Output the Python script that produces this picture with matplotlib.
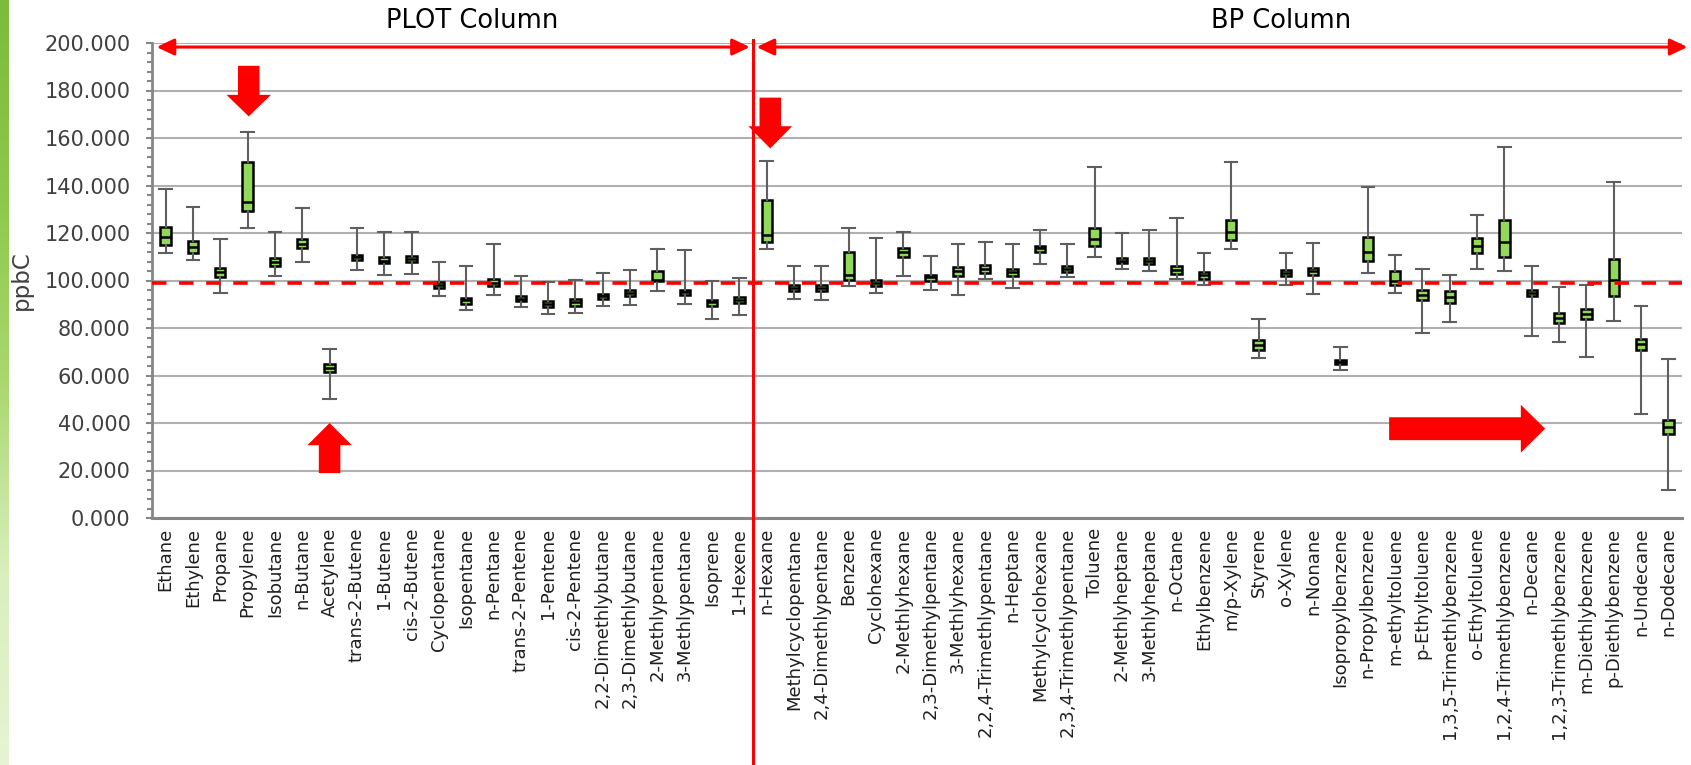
import numpy as np
import matplotlib
matplotlib.use("Agg")
import matplotlib.pyplot as plt
import matplotlib.transforms as mtransforms
from matplotlib.colors import LinearSegmentedColormap
from matplotlib.ticker import MultipleLocator, FormatStrFormatter

plt.rcParams['font.family'] = ['DejaVu Sans']

# Compounds by analytical column
plot_column = [
    "Ethane", "Ethylene", "Propane", "Propylene", "Isobutane", "n-Butane",
    "Acetylene", "trans-2-Butene", "1-Butene", "cis-2-Butene", "Cyclopentane",
    "Isopentane", "n-Pentane", "trans-2-Pentene", "1-Pentene", "cis-2-Pentene",
    "2,2-Dimethlybutane", "2,3-Dimethlybutane", "2-Methlypentane",
    "3-Methlypentane", "Isoprene", "1-Hexene",
]
bp_column = [
    "n-Hexane", "Methylcyclopentane", "2,4-Dimethlypentane", "Benzene",
    "Cyclohexane", "2-Methlyhexane", "2,3-Dimethylpentane", "3-Methlyhexane",
    "2,2,4-Trimethlypentane", "n-Heptane", "Methylcyclohexane",
    "2,3,4-Trimethlypentane", "Toluene", "2-Methlyheptane", "3-Methlyheptane",
    "n-Octane", "Ethylbenzene", "m/p-Xylene", "Styrene", "o-Xylene", "n-Nonane",
    "Isopropylbenzene", "n-Propylbenzene", "m-ethyltoluene", "p-Ethyltoluene",
    "1,3,5-Trimethlybenzene", "o-Ethyltoluene", "1,2,4-Trimethlybenzene",
    "n-Decane", "1,2,3-Trimethlybenzene", "m-Diethlybenzene", "p-Diethlybenzene",
    "n-Undecane", "n-Dodecane",
]
compounds = plot_column + bp_column

# Box statistics (ppbC)
whisker_low = [
    111.5, 108.7, 94.7, 122.0, 101.7, 107.8, 49.9, 104.5, 102.2, 102.8, 93.3,
    87.7, 93.7, 88.7, 85.9, 86.2, 89.4, 89.7, 95.7, 90.1, 83.9, 85.6,
    113.4, 92.2, 91.6, 97.5, 94.9, 101.7, 96.1, 93.7, 100.6, 97.0, 107.0,
    101.3, 109.7, 104.8, 103.8, 100.8, 98.2, 113.1, 67.5, 97.9, 94.5, 62.2,
    103.3, 94.8, 77.9, 82.7, 104.9, 104.1, 76.8, 74.1, 67.8, 82.9, 43.7, 12.0,
]
q1 = [
    115.0, 111.5, 101.3, 129.2, 106.2, 113.5, 61.5, 108.7, 107.2, 107.6, 96.8,
    90.3, 97.8, 91.2, 88.7, 89.1, 92.4, 93.4, 99.6, 93.7, 89.1, 90.5,
    116.2, 95.5, 95.4, 100.3, 97.5, 110.0, 100.0, 101.8, 103.1, 101.7, 111.9,
    103.4, 114.7, 107.3, 107.0, 102.8, 100.6, 117.1, 70.9, 101.7, 102.5, 65.0,
    108.3, 98.2, 91.7, 90.7, 111.6, 110.0, 93.3, 82.2, 83.6, 93.6, 70.9, 35.5,
]
median = [
    118.2, 114.0, 103.4, 133.1, 107.7, 115.4, 63.2, 109.7, 108.4, 109.1, 97.9,
    91.6, 98.9, 92.3, 89.9, 90.8, 93.6, 94.7, 100.3, 95.1, 90.8, 91.9,
    119.2, 96.9, 96.9, 102.4, 98.9, 111.8, 101.4, 103.8, 104.8, 103.5, 113.5,
    104.8, 117.4, 108.4, 108.1, 104.5, 102.2, 120.4, 73.0, 103.1, 103.8, 65.8,
    111.8, 100.0, 93.7, 93.0, 114.4, 116.1, 94.8, 84.3, 85.8, 100.4, 73.4, 38.4,
]
q3 = [
    122.7, 116.6, 105.3, 150.0, 109.5, 117.5, 65.0, 110.7, 109.7, 110.4, 99.2,
    92.6, 100.7, 93.6, 91.2, 92.2, 94.5, 95.8, 104.2, 96.1, 91.9, 92.9,
    134.1, 98.0, 98.0, 112.2, 100.3, 113.5, 102.4, 105.6, 106.5, 104.8, 114.5,
    105.9, 122.1, 109.4, 109.4, 105.9, 103.5, 125.6, 75.1, 104.5, 105.1, 66.4,
    118.4, 103.8, 96.0, 95.5, 118.1, 125.4, 96.0, 86.2, 88.0, 109.2, 75.5, 41.2,
]
whisker_high = [
    138.6, 130.8, 117.4, 162.5, 120.3, 130.6, 71.2, 122.0, 120.3, 120.3, 107.7,
    106.2, 115.4, 102.0, 99.5, 100.3, 103.2, 104.5, 113.4, 112.9, 100.0, 101.1,
    150.4, 106.0, 106.3, 122.1, 118.0, 120.5, 110.3, 115.4, 116.2, 115.3, 121.3,
    115.3, 147.6, 119.9, 121.1, 126.3, 111.5, 150.0, 83.9, 111.7, 115.6, 72.0,
    139.4, 110.6, 105.0, 102.5, 127.6, 156.3, 106.0, 97.2, 98.2, 141.5, 89.4, 67.0,
]

target_level = 99.0
y_ticks = np.arange(0, 201, 20)

W, H = 1691, 765
fig = plt.figure(figsize=(W / 100, H / 100), dpi=100)
fig.patch.set_facecolor("white")

# decorative green stripe on the left edge
stripe = fig.add_axes([0, 0, 9 / W, 1])
grad = np.linspace(0, 1, 256).reshape(-1, 1)
stripe_cmap = LinearSegmentedColormap.from_list(
    "stripe", ["#7dbb3c", "#8cc84b", "#a9d86f", "#d9efbd", "#e6f4d3"])
stripe.imshow(grad, aspect="auto", cmap=stripe_cmap, origin="upper")
stripe.set_axis_off()

left, right, top, bottom = 152, 1682, 43, 518
ax = fig.add_axes([left / W, 1 - bottom / H, (right - left) / W, (bottom - top) / H])

positions = np.arange(len(compounds))
stats = [
    dict(label=name, whislo=lo, q1=a, med=m, q3=b, whishi=hi)
    for name, lo, a, m, b, hi in zip(compounds, whisker_low, q1, median, q3, whisker_high)
]

whisk_col = "#5f5f5f"
ax.bxp(
    stats, positions=positions, widths=0.38, capwidths=0.46,
    patch_artist=True, showfliers=False,
    boxprops=dict(facecolor="#92d85a", edgecolor="black", linewidth=1.8),
    medianprops=dict(color="black", linewidth=1.8),
    whiskerprops=dict(color=whisk_col, linewidth=1.5),
    capprops=dict(color=whisk_col, linewidth=1.5),
    zorder=3,
)

ax.set_xlim(-0.5, len(compounds) - 0.5)
ax.set_ylim(0, 200)
ax.set_yticks(y_ticks)
ax.yaxis.set_major_formatter(FormatStrFormatter("%.3f"))
ax.yaxis.set_minor_locator(MultipleLocator(4))
ax.yaxis.grid(True, which="major", color="#b0b0b0", linewidth=1.5)
ax.set_axisbelow(True)

for side in ("top", "right"):
    ax.spines[side].set_visible(False)
ax.spines["left"].set_color("#868686")
ax.spines["left"].set_linewidth(2)
ax.spines["bottom"].set_color("#868686")
ax.spines["bottom"].set_linewidth(2.2)

ax.tick_params(axis="y", which="major", direction="out", length=4.5, width=1.5,
               color="#868686", labelsize=15, labelcolor="#404040", pad=11)
ax.tick_params(axis="y", which="minor", direction="out", length=3.5, width=1.5,
               color="#868686")
ax.tick_params(axis="x", length=0, pad=7)
ax.set_xticks(positions)
ax.set_xticklabels(compounds, rotation=90, fontsize=13, color="#1f1f1f")

ax.set_ylabel("ppbC", fontsize=16.5, color="#404040", labelpad=8)

# target line
ax.axhline(target_level, color="#ff0000", linewidth=2.6, dashes=(4, 3.5), zorder=4)

# divider between the two columns
split = len(plot_column) - 0.5
blend = mtransforms.blended_transform_factory(ax.transData, fig.transFigure)
ax.plot([split, split], [0, 1 - 40 / H], color="#ff0000", linewidth=2.2,
        transform=blend, clip_on=False, zorder=5)

# column span arrows
span_y = 198.3
span_props = dict(arrowstyle="<|-|>,head_length=1.05,head_width=0.5",
                  color="#ff0000", lw=2.2, shrinkA=0, shrinkB=0)
ax.annotate("", xy=(-0.33, span_y), xytext=(split - 0.12, span_y),
            arrowprops=span_props, annotation_clip=False, zorder=6)
ax.annotate("", xy=(split + 0.13, span_y), xytext=(len(compounds) - 0.3, span_y),
            arrowprops=span_props, annotation_clip=False, zorder=6)

fig.text(472 / W, 1 - 21 / H, "PLOT Column", fontsize=18.5, ha="center", va="center")
fig.text(1281 / W, 1 - 21 / H, "BP Column", fontsize=18.5, ha="center", va="center")

# block arrows highlighting compounds
def block_arrow(tail, tip, head_len, head_w, tail_w):
    ax.annotate("", xy=tip, xytext=tail,
                arrowprops=dict(arrowstyle=f"simple,head_length={head_len},"
                                           f"head_width={head_w},tail_width={tail_w}",
                                mutation_scale=1, fc="#ff0000", ec="none",
                                shrinkA=0, shrinkB=0),
                annotation_clip=False, zorder=7)

block_arrow((3.04, 190.4), (3.04, 169.1), 15.5, 32, 15.5)
block_arrow((22.13, 177.0), (22.13, 155.6), 16, 31.5, 15.5)
block_arrow((6.0, 18.9), (6.0, 40.0), 16, 32, 15.5)
block_arrow((44.78, 37.6), (50.49, 37.6), 17.5, 34.5, 16.5)

fig.savefig("out.png", dpi=100)
